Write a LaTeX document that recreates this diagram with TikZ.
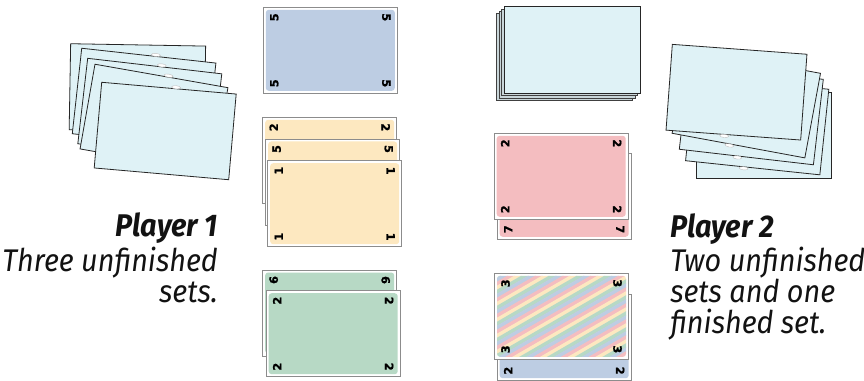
\documentclass[tikz,border=0pt]{standalone}
\usepackage{fontspec}
\newfontfamily\labfont{Fira Sans}[FakeStretch=0.92]
\newfontfamily\numfont{DejaVu Sans}[BoldFeatures={FakeBold=1.3}]
\definecolor{fancyan}{HTML}{DFF2F6}
\definecolor{deckgray}{HTML}{C9D6D9}
\definecolor{cardgray}{HTML}{8C8C8C}
\definecolor{cblue}{HTML}{BDCDE3}
\definecolor{cyellow}{HTML}{FDE8C0}
\definecolor{cgreen}{HTML}{B7D9C5}
\definecolor{cpink}{HTML}{F4BDC0}
\tikzset{
  fancard/.style={draw=black!85, line width=0.6pt, fill=fancyan},
  deckback/.style={draw=black!75, line width=0.5pt, fill=deckgray},
  cardframe/.style={draw=cardgray, line width=0.5pt, fill=white},
  digit/.style={font=\numfont\bfseries\fontsize{8.5}{9}\selectfont, inner sep=0pt, text=black},
  lbl/.style={font=\labfont\itshape\fontsize{23.5}{27}\selectfont, inner sep=0pt, text=black!93},
  blob/.style={fill=white, draw=black!25, line width=0.3pt},
}
\newcommand\carddigits[2]{%
  \node[digit, rotate=90]  (#1-tl) at (11,10) {#2};
  \node[digit, rotate=-90] (#1-tr) at (123,10) {#2};
  \node[digit, rotate=90]  (#1-bl) at (11,76) {#2};
  \node[digit, rotate=-90] (#1-br) at (123,76) {#2};}
\newcommand\mcard[5]{% name x y colour digit
  \begin{scope}[shift={(#2,#3)}]
    \draw[cardframe] (0,0) rectangle (134,86);
    \fill[#4, rounded corners=2.2pt] (2.5,2.5) rectangle (131.5,83.5);
    \carddigits{#1}{#5}
  \end{scope}}
\newcommand\rainbowcard[4]{% name x y digit
  \begin{scope}[shift={(#2,#3)}]
    \draw[cardframe] (0,0) rectangle (134,86);
    \begin{scope}
      \clip[rounded corners=2.2pt] (2.5,2.5) rectangle (131.5,83.5);
      \foreach \k in {0,...,11}{
        \foreach \col [count=\j from 0] in {cpink,cyellow,cgreen,cblue}{
          \draw[\col, line width=2.9pt] ({-180+(4*\k+\j)*6.93},100) -- ++(200,-115.5);
        }}
    \end{scope}
    \carddigits{#1}{#4}
  \end{scope}}
\newcommand\fancard[4]{% cx cy angle blobcode
  \begin{scope}[shift={(#1,#2)}, rotate=-#3]
    \path[fancard] (-67.5,-43) rectangle (67.5,43);
    #4
  \end{scope}}
\newcommand\blobtop{\path[blob] (7,-44.5) ellipse [x radius=4.5, y radius=1.6];}
\newcommand\blobbot{\path[blob] (-9,44.5) ellipse [x radius=4.5, y radius=1.6];}
\begin{document}
\begin{tikzpicture}[x=0.75pt, y=-0.75pt]
\useasboundingbox (0,0) rectangle (864,381);
\fill[white] (0,0) rectangle (864,381);

% left fan (player 1)
\fancard{137.4}{87.9}{1}{}
\fancard{144.1}{98.4}{6.3}{\blobtop}
\fancard{149.8}{108.8}{6.6}{\blobtop}
\fancard{154}{118.3}{10}{\blobtop}
\fancard{165.2}{131}{5}{\blobtop}

% right fan (player 2)
\fancard{764.2}{135.8}{0}{}
\fancard{757.2}{125}{6}{\blobbot}
\fancard{751.3}{114.3}{6.6}{\blobbot}
\fancard{746.3}{103.3}{10.5}{\blobbot}
\fancard{736.5}{92.2}{4.2}{\blobbot}

% deck
\foreach \i in {3,2,1}{
  \draw[deckback] ({504.3-2.5*\i},{6.7+2.3*\i}) rectangle ++(136,86.6);
}
\draw[fancard] (504.3,6.7) rectangle ++(136,86.6);

% middle-left column
\mcard{b5}{263.3}{7.3}{cblue}{5}
\mcard{y2}{262.7}{117.3}{cyellow}{2}
\mcard{y5}{265.7}{139}{cyellow}{5}
\mcard{y1}{267.7}{160.7}{cyellow}{1}
\mcard{g6}{262.7}{270}{cgreen}{6}
\mcard{g2}{266.2}{290.7}{cgreen}{2}

% middle-right column
\mcard{p7}{497.2}{153.3}{cpink}{7}
\mcard{p2}{494.2}{133.3}{cpink}{2}
\mcard{bl2}{497.2}{294.7}{cblue}{2}
\rainbowcard{r3}{494.5}{273.3}{3}

% captions
\node[lbl, anchor=base east] (p1a) at (218,237) {\bfseries Player 1};
\node[lbl, anchor=base east] (p1b) at (218,271.5) {Three unfinished};
\node[lbl, anchor=base east] (p1c) at (218,302) {sets.};
\node[lbl, anchor=base west] (p2a) at (670,237.5) {\bfseries Player 2};
\node[lbl, anchor=base west] (p2b) at (670,271.5) {Two unfinished};
\node[lbl, anchor=base west] (p2c) at (670,302) {sets and one};
\node[lbl, anchor=base west] (p2d) at (670,333) {finished set.};
\end{tikzpicture}
\end{document}
